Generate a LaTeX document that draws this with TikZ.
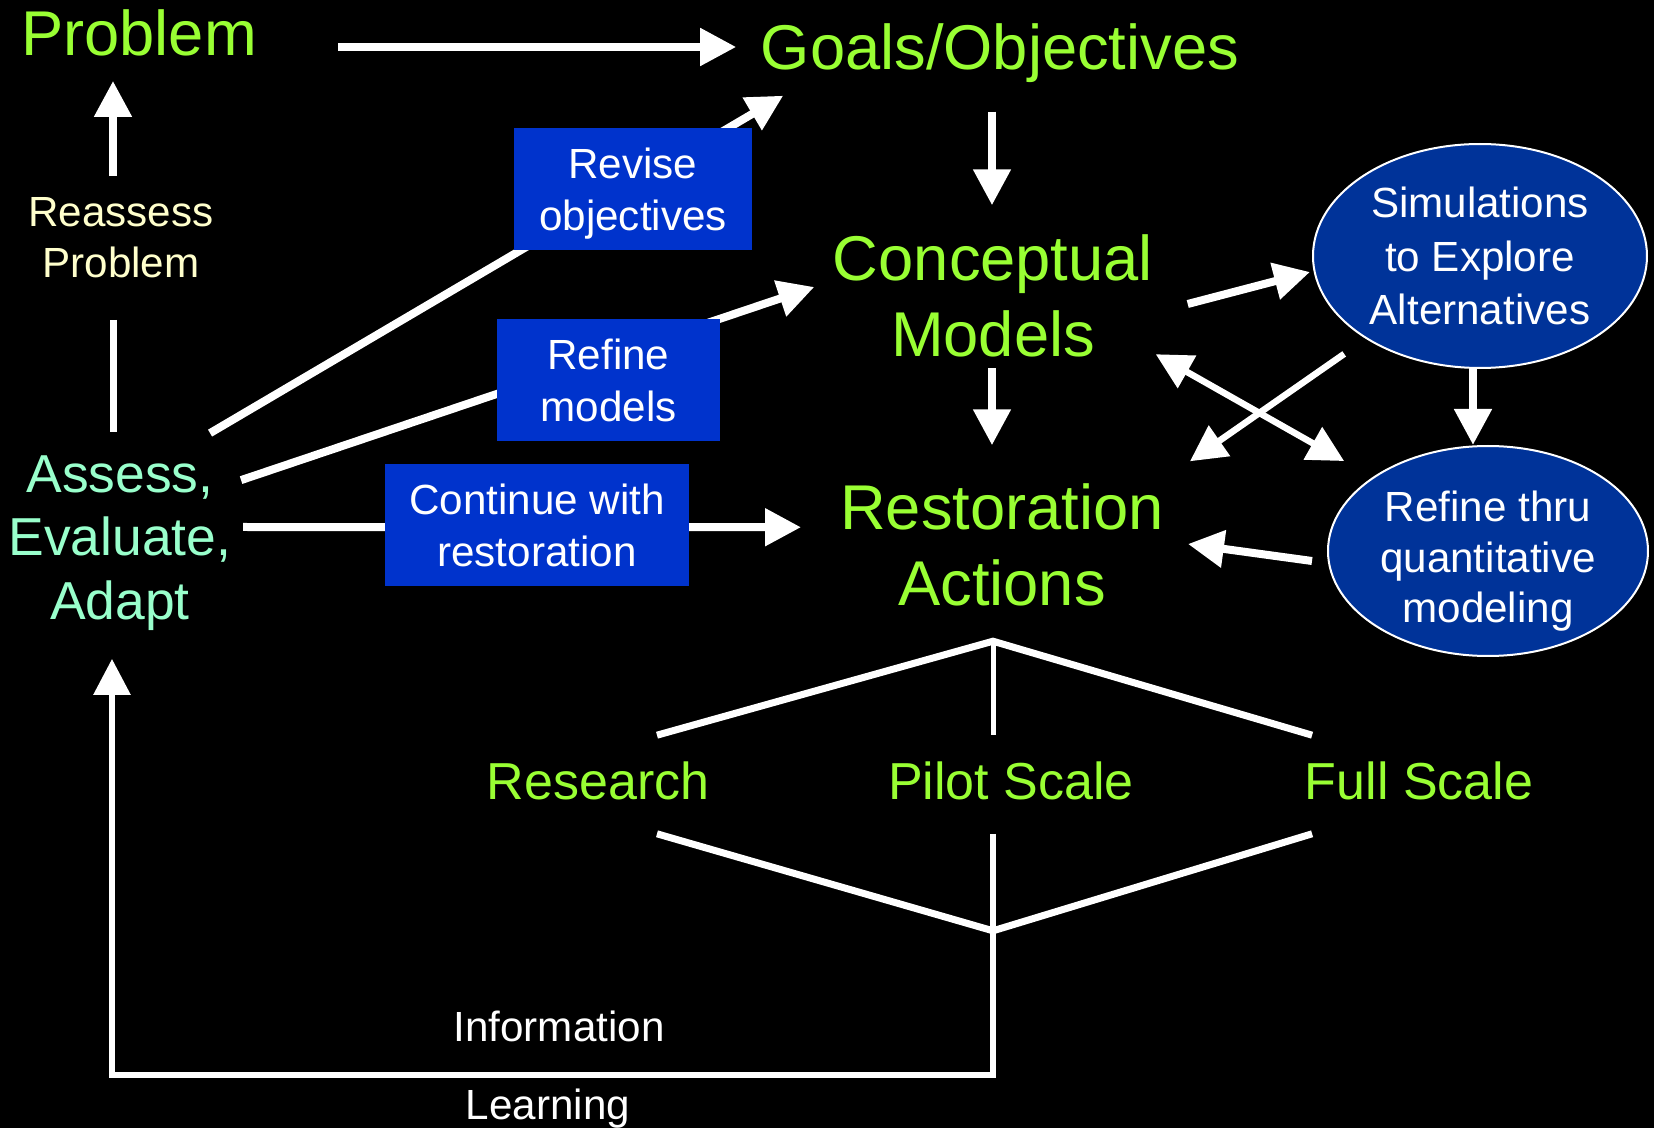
\documentclass[tikz,border=0pt]{standalone}
\usepackage{fontspec}
\setmainfont{Liberation Sans}
\usetikzlibrary{arrows.meta,shapes.geometric}

\definecolor{headgreen}{RGB}{153,255,51}
\definecolor{mint}{RGB}{153,255,204}
\definecolor{cream}{RGB}{255,255,204}
\definecolor{boxblue}{RGB}{0,51,204}
\definecolor{ovalblue}{RGB}{0,51,153}

\begin{document}
\begin{tikzpicture}[x=0.1mm,y=-0.1mm,>={Triangle[length=3.6mm,width=3.6mm]},
  every node/.style={inner sep=0pt,align=center},
  head/.style={text=headgreen,font=\fontsize{18}{21.5}\selectfont},
  tier/.style={text=headgreen,font=\fontsize{14.8}{17}\selectfont},
  note/.style={text=white,font=\fontsize{12}{14.8}\selectfont},
  action/.style={note,fill=boxblue,minimum height=12.2mm},
  oval/.style={note,ellipse,draw=white,line width=0.2mm,fill=ovalblue},
  arr/.style={->,white,line width=0.8mm},
  link/.style={white,line width=0.7mm}]
  \fill[black] (0,0) rectangle (1654,1128);
  \useasboundingbox (0,0) rectangle (1654,1128);

  \node[head] (problem) at (139,33) {Problem};
  \node[head] (goals) at (1000,53.5) {Goals/Objectives};
  \node[head] (concept) at (993,296) {Conceptual\\Models};
  \node[head] (restore) at (1002,545) {Restoration\\Actions};
  \node[text=mint,font=\fontsize{15.2}{18}\selectfont] (assess) at (120,543) {Assess,\\Evaluate,\\Adapt};
  \node[note,text=cream,font=\fontsize{12}{14.5}\selectfont] (reassess) at (121,238) {Reassess\\Problem};
  \node[oval,minimum width=33.4mm,minimum height=22.4mm,font=\fontsize{12}{15.2}\selectfont] (sim) at (1480,256) {Simulations\\to Explore\\Alternatives};
  \node[oval,minimum width=32mm,minimum height=21mm,text height=14.4mm,text depth=0pt,font=\fontsize{12}{14.5}\selectfont] (refine) at (1488,551) {Refine thru\\quantitative\\modeling};
  \node[tier] (research) at (598,781) {Research};
  \node[tier] (pilot) at (1011,781) {Pilot Scale};
  \node[tier] (full) at (1419,781) {Full Scale};
  \node[note] (info) at (559,1026) {Information};
  \node[note] (learn) at (548,1109) {Learning};

  \draw[arr] ([shift={(81,14)}]problem.east) -- ([shift={(-24,-6.5)}]goals.west);
  \draw[arr] ([shift={(-8,28)}]goals.south) -- ([shift={(-1,-29)}]concept.north);
  \draw[arr] ([shift={(-1,10.5)}]concept.south) -- ([shift={(-10,-38)}]restore.north);
  \draw[arr] ([shift={(34,8)}]concept.east) -- ([shift={(-2,16)}]sim.west);
  \draw[arr] ([shift={(-7,-1)}]sim.south) -- ([shift={(-15,0)}]refine.north);
  \draw[arr,line width=0.65mm] ([shift={(-17,18)}]sim.south west) -- ([shift={(25.5,-22)}]restore.north east);
  \draw[arr,<->,line width=0.65mm] ([shift={(2,-3.5)}]concept.south east) -- ([shift={(-30,-15)}]refine.north west);
  \draw[arr] ([shift={(-15,10)}]refine.west) -- ([shift={(23.5,-1)}]restore.east);
  \draw[arr] ([shift={(-8,-21)}]reassess.north) -- ([shift={(-26,24)}]problem.south);
  \draw[link] ([shift={(-8,41)}]reassess.south) -- ([shift={(-7,-23)}]assess.north);
  \draw[arr] ([shift={(-22,-22)}]assess.north east) -- ([shift={(23,12)}]goals.south west);
  \draw[arr] ([shift={(9,25)}]assess.north east) -- ([shift={(-18,-9)}]concept.west);
  \draw[arr] ([shift={(11,-16)}]assess.east) -- ([shift={(-38.5,-17.75)}]restore.west);

  \node[action,minimum width=23.8mm,text depth=0pt] (revise) at (633,189.5) {Revise\\objectives};
  \node[action,minimum width=22.3mm] (refmod) at (608.5,380.5) {Refine\\models};
  \node[action,minimum width=30.4mm] (goon) at (537,525.5) {Continue with\\restoration};

  \coordinate (apex) at ([shift={(-9,34.5)}]restore.south);
  \coordinate (nadir) at ([shift={(-18,130)}]pilot.south);
  \draw[link] ([shift={(59,-26)}]research.north) -- (apex) -- ([shift={(8,-26)}]full.north west);
  \draw[link,line width=0.5mm] (apex) -- ([shift={(-18,-26)}]pilot.north);
  \draw[link] ([shift={(59,33)}]research.south) -- (nadir) -- ([shift={(8,33)}]full.south west);
  \draw[arr,line width=0.6mm] ([shift={(-18,33)}]pilot.south) -- ++(0,241) -| ([shift={(-8,28)}]assess.south);
\end{tikzpicture}
\end{document}
